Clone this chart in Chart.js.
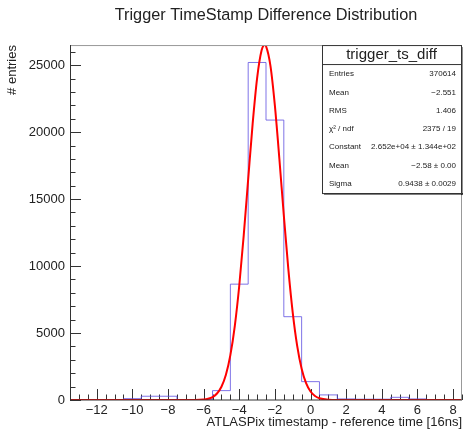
<!DOCTYPE html>
<html>
<head>
<meta charset="utf-8">
<script src="https://cdn.jsdelivr.net/npm/chart.js@4.4.0/dist/chart.umd.min.js"></script>
<style>
    html, body { margin: 0; padding: 0; background: #fff; }
    #wrap { width: 463px; height: 430px; }
</style>
</head>
<body>
<div id="wrap"><canvas id="myChart" width="463" height="430"></canvas></div>
<script>
// histogram bins (centres) and counts
var binCenters = [-13, -12, -11, -10, -9, -8, -7, -6, -5, -4, -3, -2, -1, 0, 1, 2, 3, 4, 5, 6, 7, 8];
var binCounts = [15, 20, 30, 100, 280, 280, 30, 30, 700, 8650, 25200, 20900, 6220, 1370, 380, 80, 60, 60, 200, 80, 30, 30];

// gaussian fit curve
var fitX = [-13.5, -6.5, -6, -5.75, -5.5, -5.25, -5, -4.75, -4.5, -4.25, -4, -3.75, -3.5, -3.25, -3, -2.75, -2.58, -2.5, -2.25, -2, -1.75, -1.5, -1.25, -1, -0.75, -0.5, -0.25, 0, 0.25, 0.5, 1, 1.5, 8.5];
var fitY = [0, 5, 37, 94, 221, 485, 991, 1885, 3349, 5542, 8550, 12297, 16490, 20614, 24019, 26093, 26520, 26425, 24947, 21956, 18015, 13780, 9826, 6532, 4047, 2339, 1260, 632, 296, 129, 20, 2, 0];

var xTickValues = [-12, -10, -8, -6, -4, -2, 0, 2, 4, 6, 8];
var yTickValues = [0, 5000, 10000, 15000, 20000, 25000];

var statsTitle = 'trigger_ts_diff';
var statsLabels = ['Entries', 'Mean', 'RMS', '\u03c7\u00b2 / ndf', 'Constant', 'Mean', 'Sigma'];
var statsValues = ['370614', '\u22122.551', '1.406', '2375 / 19', '2.652e+04 \u00b1 1.344e+02', '\u22122.58 \u00b1 0.00', '0.9438 \u00b1 0.0029'];

var xMin = -13.5, xMax = 8.5, xMinorStep = 0.5;
var yMin = 0, yMax = 26500, yMinorStep = 1000;

var FONT = "'Liberation Sans', Arial, Helvetica, sans-serif";

var histData = binCenters.map(function (c, i) { return { x: c - 0.5, y: binCounts[i] }; });
histData.push({ x: binCenters[binCenters.length - 1] + 0.5, y: binCounts[binCounts.length - 1] });

var fitData = fitX.map(function (x, i) { return { x: x, y: fitY[i] }; });

function minus(v) {
    return String(v).replace('-', '\u2212');
}

// ROOT style frame: inward ticks, box and stats panel
var rootFrame = {
    id: 'rootFrame',
    beforeDatasetsDraw: function (chart) {
        var c = chart.ctx, a = chart.chartArea;
        var xs = chart.scales.x, ys = chart.scales.y;
        c.save();
        c.strokeStyle = '#333';
        c.lineWidth = 1;
        c.beginPath();
        for (var v = xMin; v <= xMax + 1e-9; v += xMinorStep) {
            var px = Math.round(xs.getPixelForValue(v)) + 0.5;
            var len = xTickValues.indexOf(Math.round(v * 2) / 2) >= 0 ? 11 : 5.5;
            c.moveTo(px, a.bottom);
            c.lineTo(px, a.bottom - len);
        }
        for (var w = yMin; w <= yMax; w += yMinorStep) {
            var py = Math.round(ys.getPixelForValue(w)) + 0.5;
            var l2 = yTickValues.indexOf(w) >= 0 ? 11 : 5.5;
            c.moveTo(a.left, py);
            c.lineTo(a.left + l2, py);
        }
        c.stroke();
        c.restore();
    },
    afterDraw: function (chart) {
        var c = chart.ctx, a = chart.chartArea;
        c.save();
        // frame
        c.lineWidth = 1;
        c.strokeStyle = '#999';
        c.beginPath();
        c.moveTo(a.left, a.top + 0.5);
        c.lineTo(a.right, a.top + 0.5);
        c.moveTo(a.right - 0.5, a.top);
        c.lineTo(a.right - 0.5, a.bottom);
        c.stroke();
        c.strokeStyle = '#333';
        c.beginPath();
        c.moveTo(a.left + 0.5, a.top);
        c.lineTo(a.left + 0.5, a.bottom);
        c.lineTo(a.right, a.bottom);
        c.stroke();

        // stats box
        var bx = a.right - 140, by = a.top, bw = 139, bh = 148;
        c.fillStyle = '#fff';
        c.fillRect(bx, by, bw, bh);
        c.fillStyle = '#222';
        c.fillRect(bx + bw, by + 2, 1.5, bh);
        c.fillRect(bx + 2, by + bh, bw, 1.5);
        c.strokeStyle = '#333';
        c.strokeRect(bx + 0.5, by + 0.5, bw, bh);
        c.beginPath();
        c.moveTo(bx, by + 19.5);
        c.lineTo(bx + bw, by + 19.5);
        c.stroke();

        c.fillStyle = '#222';
        c.textBaseline = 'middle';
        c.textAlign = 'center';
        c.font = '15px ' + FONT;
        c.fillText(statsTitle, bx + bw / 2, by + 10);
        c.font = '8px ' + FONT;
        for (var i = 0; i < statsLabels.length; i++) {
            var ry = by + 29 + i * 18.3;
            c.textAlign = 'left';
            c.fillText(statsLabels[i], bx + 7, ry);
            c.textAlign = 'right';
            c.fillText(statsValues[i], bx + bw - 5, ry);
        }
        c.restore();
    }
};

var ctx = document.getElementById('myChart').getContext('2d');
var myChart = new Chart(ctx, {
    type: 'line',
    data: {
        datasets: [
            {
                label: 'trigger_ts_diff',
                data: histData,
                stepped: 'before',
                borderColor: 'rgba(95, 80, 225, 0.8)',
                borderWidth: 1,
                pointRadius: 0,
                fill: false,
                order: 2
            },
            {
                label: 'gaus',
                data: fitData,
                borderColor: '#ff0000',
                borderWidth: 2,
                pointRadius: 0,
                cubicInterpolationMode: 'monotone',
                fill: false,
                order: 1
            }
        ]
    },
    options: {
        responsive: false,
        animation: false,
        layout: {
            padding: { left: 0, right: 1, top: 0, bottom: 0 }
        },
        scales: {
            x: {
                type: 'linear',
                min: xMin,
                max: xMax,
                afterBuildTicks: function (scale) {
                    scale.ticks = xTickValues.map(function (v) { return { value: v }; });
                },
                afterFit: function (scale) { scale.height = 30; },
                ticks: {
                    color: '#222',
                    padding: 3,
                    maxRotation: 0,
                    autoSkip: false,
                    font: { family: FONT, size: 13 },
                    callback: function (v) { return minus(v); }
                },
                grid: { display: false, drawTicks: false },
                border: { display: false },
                title: {
                    display: true,
                    text: 'ATLASPix timestamp - reference time [16ns]',
                    align: 'end',
                    color: '#222',
                    padding: 0,
                    font: { family: FONT, size: 13 }
                }
            },
            y: {
                min: yMin,
                max: yMax,
                afterBuildTicks: function (scale) {
                    scale.ticks = yTickValues.map(function (v) { return { value: v }; });
                },
                afterFit: function (scale) { scale.width = 70; },
                ticks: {
                    color: '#222',
                    padding: 5,
                    font: { family: FONT, size: 13 },
                    callback: function (v) { return String(v); }
                },
                grid: { display: false, drawTicks: false },
                border: { display: false },
                title: {
                    display: true,
                    text: '# entries',
                    align: 'end',
                    color: '#222',
                    padding: { top: 5, bottom: 0 },
                    font: { family: FONT, size: 13 }
                }
            }
        },
        plugins: {
            legend: { display: false },
            tooltip: { enabled: false },
            title: {
                display: true,
                fullSize: false,
                text: 'Trigger TimeStamp Difference Distribution',
                color: '#222',
                padding: { top: 6, bottom: 19.5 },
                font: { family: FONT, size: 16.3, weight: 'normal' }
            }
        }
    },
    plugins: [rootFrame]
});
</script>
</body>
</html>
